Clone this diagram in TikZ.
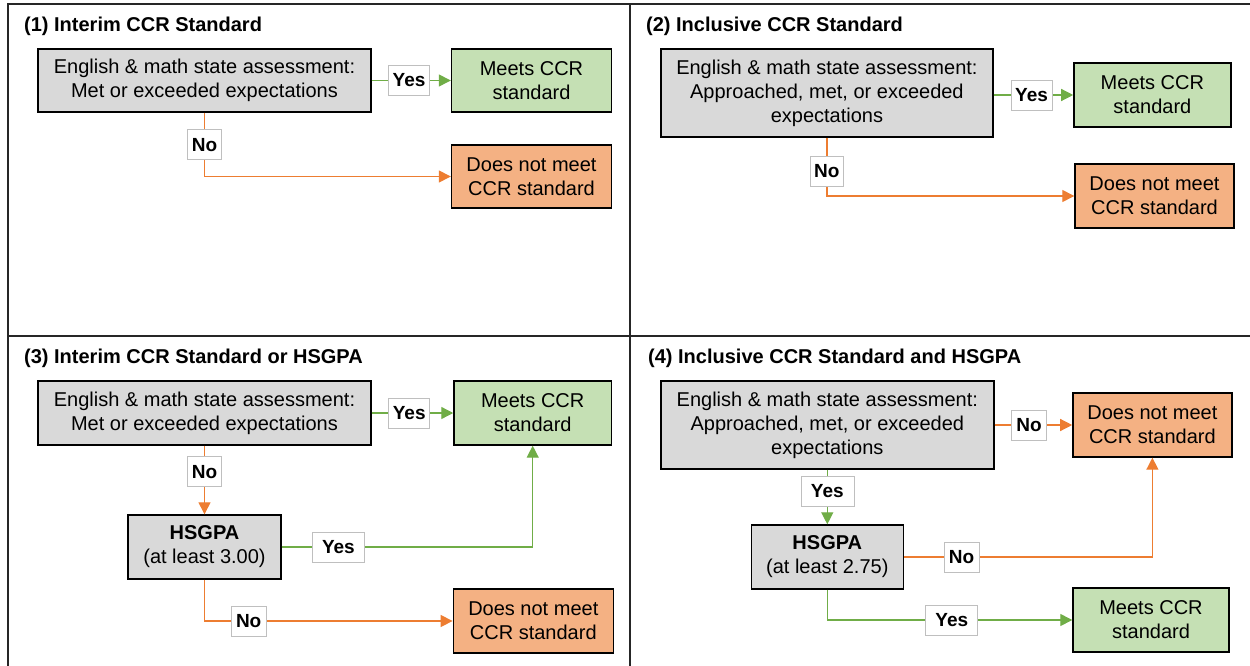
\documentclass[tikz,border=0pt]{standalone}
\usepackage{fontspec}
\setmainfont{Liberation Sans}
\usetikzlibrary{arrows.meta}
\definecolor{boxgray}{HTML}{D9D9D9}
\definecolor{boxgreen}{HTML}{C5E0B4}
\definecolor{boxorange}{HTML}{F4B183}
\definecolor{lgreen}{HTML}{70AD47}
\definecolor{lorange}{HTML}{ED7D31}
\definecolor{lblborder}{HTML}{BFBFBF}
\definecolor{frame}{HTML}{262626}
\tikzset{
  box/.style={draw=black, line width=1.4pt, inner sep=0pt, align=center,
    font=\fontsize{20}{24}\selectfont},
  graybox/.style={box, fill=boxgray},
  greenbox/.style={box, fill=boxgreen},
  orangebox/.style={box, fill=boxorange},
  lbl/.style={draw=lblborder, line width=0.6pt, fill=white, inner sep=0pt,
    minimum height=30pt, font=\fontsize{19}{21}\selectfont\bfseries},
  gline/.style={draw=lgreen, line width=1.3pt, -{Triangle[length=12pt,width=12pt]}},
  oline/.style={draw=lorange, line width=1.3pt, -{Triangle[length=12pt,width=12pt]}},
  ttl/.style={anchor=base west, inner sep=0pt, font=\fontsize{20}{22}\selectfont\bfseries},
  frameline/.style={draw=frame, line width=2pt}
}
\begin{document}
\begin{tikzpicture}[x=1pt, y=-1pt]
\useasboundingbox (0,0) rectangle (1250,666);
% frame
\coordinate (tl) at (8.4,4.5);
\coordinate (tr) at (1250,4.5);
\coordinate (bl) at (8.4,666);
\coordinate (mt) at (630.3,4.5);
\coordinate (mb) at (630.3,666);
\coordinate (hl) at (8.4,335.7);
\coordinate (hr) at (1250,335.7);
\draw[frameline] (tr) -- (tl) -- (bl);
\draw[frameline] (mt) -- (mb);
\draw[frameline] (hl) -- (hr);

% ---------- Panel 1
\node[ttl] (t1) at (24,32) {(1) Interim CCR Standard};
\node[graybox, minimum width=333pt, minimum height=63pt] (a1) at (204.5,80.5)
  {English \& math state assessment:\\Met or exceeded expectations};
\node[greenbox, minimum width=160pt, minimum height=63pt] (m1) at (531.5,80.5)
  {Meets CCR\\standard};
\node[orangebox, minimum width=160pt, minimum height=63pt] (d1) at (531.5,176.5)
  {Does not meet\\CCR standard};
\draw[gline] (a1.east) -- node[lbl, minimum width=41pt, pos=0.473] (y1) {Yes} (m1.west);
\draw[oline] (a1.south) |- node[lbl, minimum width=34pt, pos=0.25] (n1) {No} (d1.west);

% ---------- Panel 2
\node[ttl] (t2) at (646,32) {(2) Inclusive CCR Standard};
\node[graybox, minimum width=332pt, minimum height=88pt] (a2) at (826.9,93)
  {English \& math state assessment:\\Approached, met, or exceeded\\expectations};
\node[greenbox, minimum width=157pt, minimum height=64pt] (m2) at (1152.4,95)
  {Meets CCR\\standard};
\node[orangebox, minimum width=159pt, minimum height=64pt] (d2) at (1154.5,196)
  {Does not meet\\CCR standard};
\draw[gline] (a2.east |- m2.west) -- node[lbl, minimum width=41pt, pos=0.477] (y2) {Yes} (m2.west);
\draw[oline] (a2.south) |- node[lbl, minimum width=33pt, pos=0.284] (n2) {No} (d2.west);

% ---------- Panel 3
\node[ttl] (t3) at (24,363) {(3) Interim CCR Standard or HSGPA};
\node[graybox, minimum width=333pt, minimum height=64pt] (a3) at (204.5,413)
  {English \& math state assessment:\\Met or exceeded expectations};
\node[greenbox, minimum width=157.5pt, minimum height=64pt] (m3) at (532.7,413)
  {Meets CCR\\standard};
\node[graybox, minimum width=153pt, minimum height=64pt] (h3) at (204.5,547)
  {\textbf{HSGPA}\\(at least 3.00)};
\node[orangebox, minimum width=160pt, minimum height=64pt] (d3) at (533.3,621)
  {Does not meet\\CCR standard};
\draw[gline] (a3.east) -- node[lbl, minimum width=41pt, pos=0.46] (y3) {Yes} (m3.west);
\draw[oline] (a3.south) -- node[lbl, minimum width=34pt, pos=0.38] (n3) {No} (h3.north);
\draw[gline] (h3.east) -| node[lbl, minimum width=52pt, pos=0.113] (y3b) {Yes} (m3.south);
\draw[oline] (h3.south) |- node[lbl, minimum width=35pt, pos=0.589] (n3b) {No} (d3.west);

% ---------- Panel 4
\node[ttl] (t4) at (648,363) {(4) Inclusive CCR Standard and HSGPA};
\node[graybox, minimum width=333pt, minimum height=88pt] (a4) at (827.3,425)
  {English \& math state assessment:\\Approached, met, or exceeded\\expectations};
\node[orangebox, minimum width=159pt, minimum height=64pt] (d4) at (1152.4,425)
  {Does not meet\\CCR standard};
\node[graybox, minimum width=152pt, minimum height=64pt] (h4) at (827.3,557)
  {\textbf{HSGPA}\\(at least 2.75)};
\node[greenbox, minimum width=156pt, minimum height=64pt] (m4) at (1151,620)
  {Meets CCR\\standard};
\draw[oline] (a4.east) -- node[lbl, minimum width=35pt, pos=0.445] (n4) {No} (d4.west);
\draw[gline] (a4.south) -- node[lbl, minimum width=53pt, pos=0.39] (y4) {Yes} (h4.north);
\draw[oline] (h4.east) -| node[lbl, minimum width=35pt, pos=0.116] (n4b) {No} (d4.south);
\draw[gline] (h4.south) |- node[lbl, minimum width=52pt, pos=0.754] (y4b) {Yes} (m4.west);
\end{tikzpicture}
\end{document}
